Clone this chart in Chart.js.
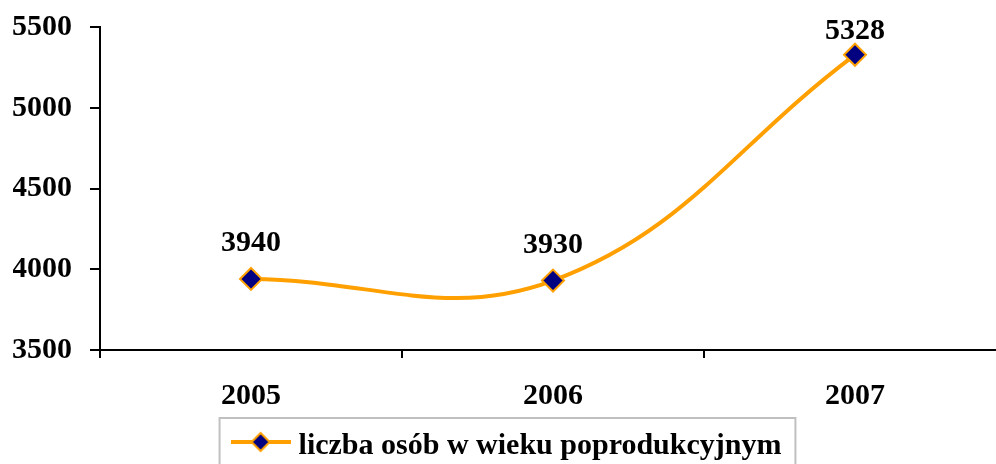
<!DOCTYPE html>
<html>
<head>
<meta charset="utf-8">
<script src="https://cdn.jsdelivr.net/npm/chart.js@4.4.1/dist/chart.umd.min.js"></script>
<style>
  html, body { margin: 0; padding: 0; background: #fff; overflow: hidden; }
  .chart-wrap { position: relative; width: 1010px; height: 471px; }
</style>
</head>
<body>
<div class="chart-wrap"><canvas id="line-chart"></canvas></div>
<script>
// --data
var years = ['2005', '2006', '2007'];
var persons = [3940, 3930, 5328];
var seriesName = 'liczba osób w wieku poprodukcyjnym';
var yTicks = [3500, 4000, 4500, 5000, 5500];

var orange = '#FFA000';
var navy = '#000080';
var font = {family: '"Liberation Serif", "Times New Roman", serif', size: 30, weight: 'bold', lineHeight: 1};
// y labels: small line height so the top label does not push the plot down
var yFont = {family: font.family, size: 30, weight: 'bold', lineHeight: 0.6};

// legend sample: line with a diamond in the middle (sits a little above the text middle)
function legendSample() {
  var c = document.createElement('canvas');
  c.width = 60; c.height = 32;
  var ctx = c.getContext('2d');
  ctx.strokeStyle = orange;
  ctx.lineWidth = 4;
  ctx.beginPath(); ctx.moveTo(0, 12); ctx.lineTo(60, 12); ctx.stroke();
  ctx.beginPath();
  ctx.moveTo(30, 3); ctx.lineTo(39, 12); ctx.lineTo(30, 21); ctx.lineTo(21, 12); ctx.closePath();
  ctx.fillStyle = navy; ctx.fill();
  ctx.lineWidth = 2; ctx.stroke();
  return c;
}

// value labels above the points
var valueLabels = {
  id: 'valueLabels',
  afterDatasetsDraw: function(chart) {
    var ctx = chart.ctx;
    var meta = chart.getDatasetMeta(0);
    ctx.save();
    ctx.font = 'bold 30px "Liberation Serif", serif';
    ctx.fillStyle = '#000';
    ctx.textAlign = 'center';
    ctx.textBaseline = 'alphabetic';
    meta.data.forEach(function(pt, i) {
      var y = Math.max(pt.y - 28, chart.chartArea.top + 12);
      ctx.fillText(String(chart.data.datasets[0].data[i]), pt.x, y);
    });
    ctx.restore();
  }
};

// grey frame round the legend
var legendFrame = {
  id: 'legendFrame',
  afterDraw: function(chart) {
    var box = chart.legend.legendHitBoxes[0];
    if (!box) return;
    var ctx = chart.ctx;
    ctx.save();
    ctx.strokeStyle = '#c0c0c0';
    ctx.lineWidth = 2;
    ctx.strokeRect(box.left - 18, box.top - 13, box.width + 32, 80);
    ctx.restore();
  }
};

new Chart(document.getElementById('line-chart'), {
  type: 'line',
  data: {
    labels: years,
    datasets: [{
      label: seriesName,
      data: persons,
      borderColor: orange,
      borderWidth: 4,
      tension: 0.4,
      pointStyle: 'rectRot',
      pointRadius: 11,
      pointBorderWidth: 2,
      pointBackgroundColor: navy,
      pointBorderColor: orange,
      clip: false
    }]
  },
  options: {
    responsive: true,
    maintainAspectRatio: false,
    animation: false,
    events: [],
    layout: {autoPadding: false, padding: {top: 27, left: 13, right: 4, bottom: 0}},
    scales: {
      x: {
        offset: true,
        border: {color: '#000', width: 2},
        grid: {offset: true, drawOnChartArea: false, color: '#000', lineWidth: 2, tickLength: 8},
        ticks: {color: '#000', font: font, padding: 23},
        afterFit: function(scale) { scale.height = 60; }
      },
      y: {
        min: yTicks[0],
        max: yTicks[yTicks.length - 1],
        border: {color: '#000', width: 2},
        grid: {drawOnChartArea: false, color: '#000', lineWidth: 2, tickLength: 10},
        afterBuildTicks: function(scale) {
          scale.ticks = yTicks.map(function(v) { return {value: v}; });
        },
        afterFit: function(scale) { scale.width = 87; },
        ticks: {
          color: '#000', font: yFont, padding: 18,
          callback: function(value) { return String(value); }
        }
      }
    },
    plugins: {
      legend: {
        position: 'bottom',
        labels: {
          color: '#000',
          font: font,
          padding: 21,
          usePointStyle: true,
          pointStyleWidth: 46,
          generateLabels: function(chart) {
            return [{
              text: seriesName,
              pointStyle: legendSample(),
              fillStyle: navy,
              strokeStyle: orange,
              lineWidth: 0,
              datasetIndex: 0
            }];
          }
        }
      },
      tooltip: {enabled: false}
    }
  },
  plugins: [valueLabels, legendFrame]
});
</script>
</body>
</html>
